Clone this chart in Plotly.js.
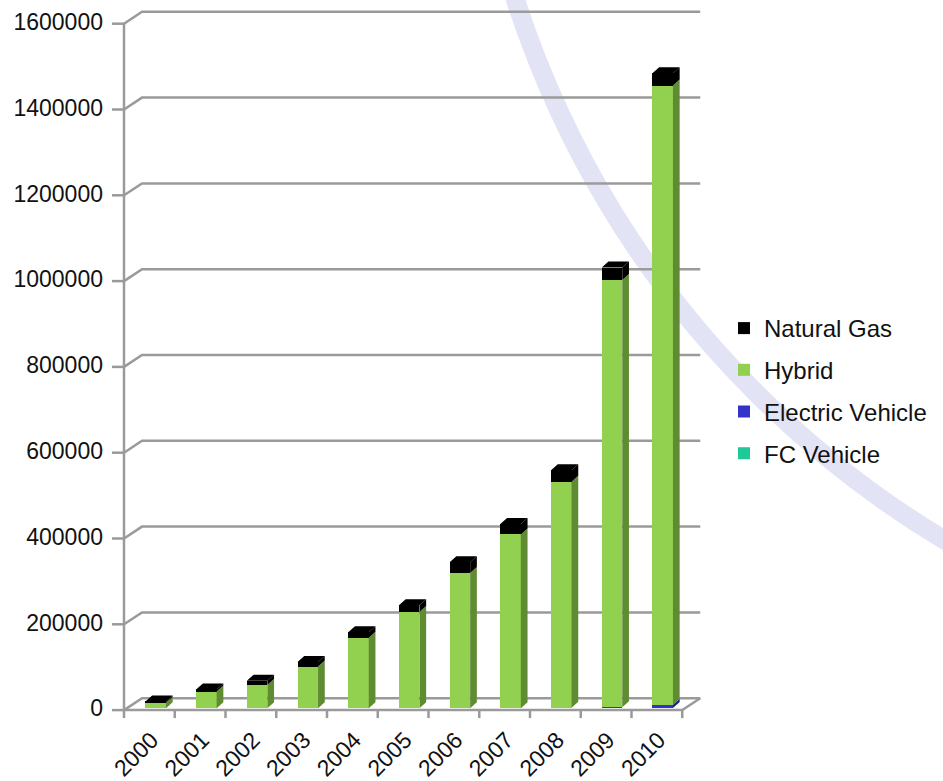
<!DOCTYPE html>
<html>
<head>
<meta charset="utf-8">
<script src="https://cdn.plot.ly/plotly-3.0.1.min.js"></script>
<style>
  html, body { margin: 0; padding: 0; background: #ffffff; }
  #chart { width: 943px; height: 781px; }
</style>
</head>
<body>
<div id="chart"></div>
<script>
// Clean-energy vehicles in use, by year (stacked: FC at the bottom, natural gas on top)
const years = ['2000', '2001', '2002', '2003', '2004', '2005', '2006', '2007', '2008', '2009', '2010'];
const fcVehicle       = [0, 0, 100, 200, 300, 300, 400, 400, 500, 500, 500];
const electricVehicle = [0, 0, 0, 0, 0, 0, 0, 0, 500, 2000, 8000];
const hybrid          = [13000, 39000, 54000, 97000, 164000, 224000, 315000, 405000, 527000, 996000, 1443000];
const naturalGas      = [3000, 5000, 10000, 11000, 13000, 16000, 25000, 24000, 27000, 29000, 29000];
const yTicks = [0, 200000, 400000, 600000, 800000, 1000000, 1200000, 1400000, 1600000];

const seriesNames = ['FC Vehicle', 'Electric Vehicle', 'Hybrid', 'Natural Gas'];
const legendRanks = [4, 3, 2, 1];
const frontColors = ['#1fc897', '#3333cc', '#92d050', '#000000'];
const sideColors  = ['#138a68', '#1e1e88', '#5f8b32', '#000000'];

// ---- page geometry (pixels) ----
const FIG_W = 943, FIG_H = 781;
const PLOT_L = 124, PLOT_R = 701, PLOT_T = 6, PLOT_B = 720;
const BAR0_X = 155.7;          // centre of the first column's front face
const CAT_PX = 50.7;           // column pitch
const BASE_Y = 708.3;          // column base line
const PX_PER_UNIT = 85.8 / 200000;
const U = 1 / PX_PER_UNIT;     // data units per pixel
const FRONT_DROP = 1.8;        // front axis plane sits slightly below the column plane
const BACK_RISE = 10.1;        // back wall sits above the column plane
const WALL_DX = 18;            // depth offset of the back wall
const FRONT_PITCH = 50.75;
const BAR_W = 20.5 / CAT_PX;
const SIDE_DX = 6.7 / CAT_PX;
const SIDE_DY = 6 * U;

const xRange = [(PLOT_L - BAR0_X) / CAT_PX, (PLOT_R - BAR0_X) / CAT_PX];
const yRange = [-(PLOT_B - BASE_Y) * U, (BASE_Y - PLOT_T) * U];
const px = (p) => (p - PLOT_L) / (PLOT_R - PLOT_L);   // pixel x -> paper x
const py = (p) => (PLOT_B - p) / (PLOT_B - PLOT_T);   // pixel y -> paper y

const idx = years.map((_, i) => i);
const stackSeries = [fcVehicle, electricVehicle, hybrid, naturalGas];

// ---- front faces: stacked bars ----
const traces = stackSeries.map((vals, s) => ({
  type: 'bar',
  name: seriesNames[s],
  legendgroup: seriesNames[s],
  legendrank: legendRanks[s],
  x: idx,
  y: vals,
  width: BAR_W,
  marker: { color: frontColors[s], line: { width: 0 } },
  hoverinfo: 'x+y+name'
}));

// ---- side faces and top faces, built from the stacked values ----
const lower = idx.map(() => 0);
stackSeries.forEach((vals, s) => {
  const sx = [], sy = [];
  idx.forEach(i => {
    const lo = lower[i], hi = lo + vals[i];
    if (vals[i] > 0) {
      const xr = i + BAR_W / 2;
      sx.push(xr, xr + SIDE_DX, xr + SIDE_DX, xr, xr, null);
      sy.push(lo, lo + SIDE_DY, hi + SIDE_DY, hi, lo, null);
    }
    lower[i] = hi;
  });
  traces.push({
    type: 'scatter', mode: 'lines', x: sx, y: sy,
    fill: 'toself', fillcolor: sideColors[s],
    line: { width: 0, color: sideColors[s] },
    hoverinfo: 'skip', showlegend: false
  });
});

const tx = [], ty = [];
idx.forEach(i => {
  const top = lower[i];
  const xl = i - BAR_W / 2, xr = i + BAR_W / 2;
  tx.push(xl, xr, xr + SIDE_DX, xl + SIDE_DX, xl, null);
  ty.push(top, top, top + SIDE_DY, top + SIDE_DY, top, null);
});
traces.push({
  type: 'scatter', mode: 'lines', x: tx, y: ty,
  fill: 'toself', fillcolor: frontColors[3],
  line: { width: 0, color: frontColors[3] },
  hoverinfo: 'skip', showlegend: false
});

// ---- walls, floor, gridlines, ticks ----
const GRID = '#9a9a9a';
const frontY = (v) => v - FRONT_DROP * U;
const backY = (v) => v + BACK_RISE * U;
const xFrontL = px(PLOT_L), xBackL = px(PLOT_L + WALL_DX);
const xFrontR = px(PLOT_L + 11 * FRONT_PITCH), xBackR = px(PLOT_L + 11 * FRONT_PITCH + WALL_DX);

const shapes = [];

// decorative sweep behind the chart
const ARC_CX = 1450, ARC_CY = -302, ARC_R = 982;
shapes.push({
  type: 'circle', xref: 'paper', yref: 'paper', layer: 'below',
  x0: px(ARC_CX - ARC_R), x1: px(ARC_CX + ARC_R),
  y0: py(ARC_CY + ARC_R), y1: py(ARC_CY - ARC_R),
  line: { color: 'rgba(226,226,246,0.95)', width: 19 },
  fillcolor: 'rgba(0,0,0,0)'
});

yTicks.forEach(v => {
  shapes.push({
    type: 'path', xref: 'paper', yref: 'y', layer: 'below',
    path: `M${xFrontL},${frontY(v)} L${xBackL},${backY(v)} L${xBackR},${backY(v)}`,
    line: { color: GRID, width: 2.5 }
  });
  shapes.push({
    type: 'line', xref: 'paper', yref: 'y', layer: 'below',
    x0: px(PLOT_L - 12), x1: xFrontL, y0: frontY(v), y1: frontY(v),
    line: { color: GRID, width: 2.5 }
  });
});
// floor front edge and right end
shapes.push({
  type: 'path', xref: 'paper', yref: 'y', layer: 'below',
  path: `M${xFrontL},${frontY(0)} L${xFrontR},${frontY(0)} L${xBackR},${backY(0)}`,
  line: { color: GRID, width: 2.5 }
});
// front value axis
shapes.push({
  type: 'line', xref: 'paper', yref: 'y', layer: 'below',
  x0: xFrontL, x1: xFrontL, y0: frontY(0) - 8 * U, y1: frontY(yTicks[yTicks.length - 1]),
  line: { color: GRID, width: 2.5 }
});
// category boundary ticks
for (let k = 1; k <= years.length; k++) {
  const xk = px(PLOT_L + k * FRONT_PITCH);
  shapes.push({
    type: 'line', xref: 'paper', yref: 'y', layer: 'below',
    x0: xk, x1: xk, y0: frontY(0), y1: frontY(0) - 8 * U,
    line: { color: GRID, width: 2.5 }
  });
}

const FONT = 'Liberation Sans, Arial, sans-serif';

const layout = {
  width: FIG_W, height: FIG_H,
  margin: { l: PLOT_L, r: FIG_W - PLOT_R, t: PLOT_T, b: FIG_H - PLOT_B, pad: 0 },
  paper_bgcolor: '#ffffff',
  plot_bgcolor: 'rgba(0,0,0,0)',
  barmode: 'stack',
  showlegend: true,
  font: { family: FONT, size: 23, color: '#111111' },
  xaxis: {
    range: xRange, autorange: false, fixedrange: true,
    tickmode: 'array', tickvals: idx, ticktext: years,
    tickangle: -45, ticks: '', showgrid: false, zeroline: false, showline: false,
    tickfont: { family: FONT, size: 23, color: '#111111' },
    ticklabelstandoff: 1, ticklabelshift: -4
  },
  yaxis: {
    range: yRange, autorange: false, fixedrange: true,
    tickmode: 'array', tickvals: yTicks, ticktext: yTicks.map(v => String(v)),
    ticks: '', showgrid: false, zeroline: false, showline: false,
    tickfont: { family: FONT, size: 23, color: '#111111' },
    ticklabelstandoff: 20
  },
  legend: {
    x: px(724), xanchor: 'left',
    y: py(306), yanchor: 'top',
    traceorder: 'grouped',
    tracegroupgap: 7.5,
    bgcolor: 'rgba(0,0,0,0)', borderwidth: 0,
    font: { family: FONT, size: 24, color: '#111111' }
  },
  shapes: shapes
};

Plotly.newPlot('chart', traces, layout, { staticPlot: true, displayModeBar: false });
</script>
</body>
</html>
